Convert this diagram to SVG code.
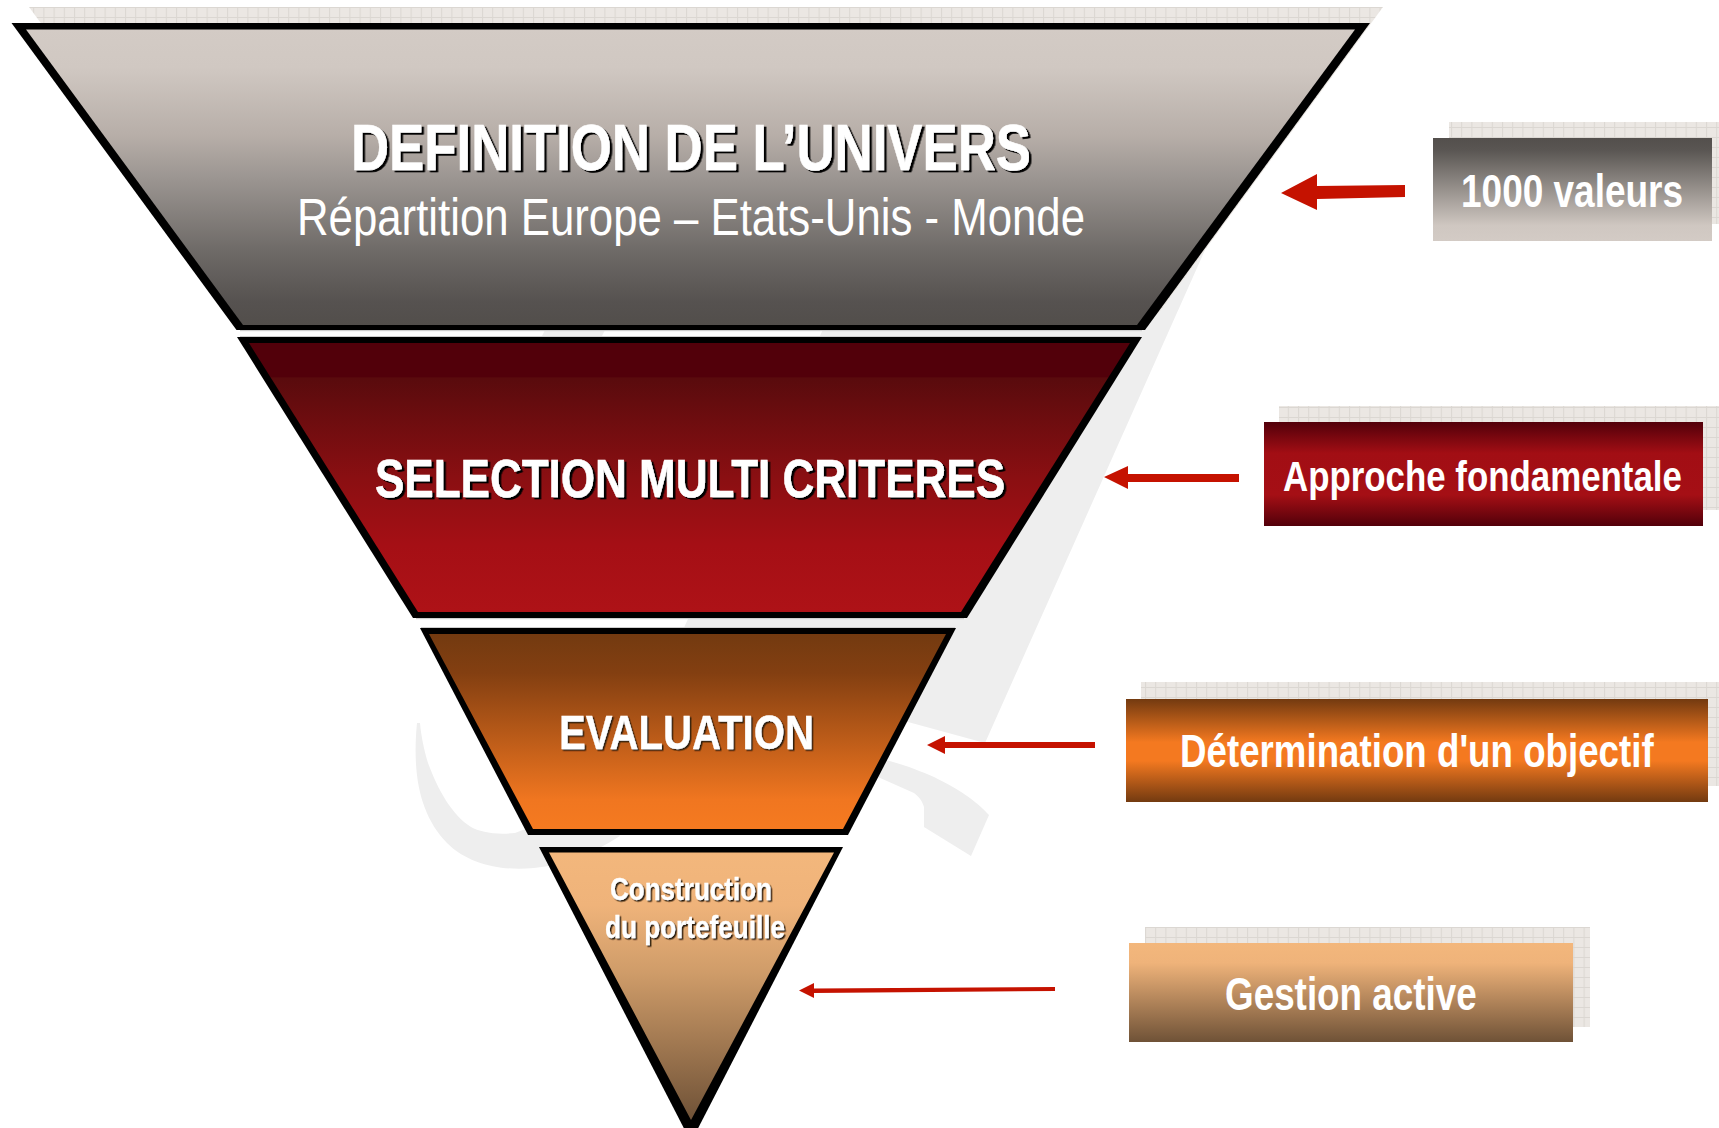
<svg xmlns="http://www.w3.org/2000/svg" width="1719" height="1128" viewBox="0 0 1719 1128">
<style>
text{font-family:"Liberation Sans",Arial,sans-serif;fill:#fff;text-anchor:start}
.b{font-weight:bold}
.s1{filter:url(#sh2);stroke:#fff;stroke-width:.5}
.s2{filter:url(#sh1);stroke:#fff;stroke-width:.3}
.wm{fill:#eeeeee}
.tex{fill:url(#grid)}
.arr{fill:#c51200}
.gap{fill:#cfcfcf}
</style>
<defs>
<pattern id="grid" width="10.2" height="10" patternUnits="userSpaceOnUse" x="1145" y="927">
<rect width="10.2" height="10" fill="#ebe7e3"/>
<path d="M0 .5H10.2M.5 0V10" stroke="#dbd7d2" stroke-width="1" fill="none"/>
</pattern>
<filter id="sh2" x="-5%" y="-20%" width="110%" height="140%"><feDropShadow dx="2.5" dy="2" stdDeviation="0" flood-color="#000"/></filter>
<filter id="sh1" x="-5%" y="-20%" width="110%" height="140%"><feDropShadow dx="1.5" dy="1.5" stdDeviation="0.3" flood-color="#2a1a0a"/></filter>
<linearGradient id="g1" gradientUnits="userSpaceOnUse" x1="0" y1="29" x2="0" y2="325">
<stop offset="0" stop-color="#d3cbc5"/><stop offset=".13" stop-color="#d0c8c2"/><stop offset=".36" stop-color="#b7aea8"/><stop offset=".5" stop-color="#9c9692"/><stop offset=".75" stop-color="#6e6a67"/><stop offset=".92" stop-color="#565250"/><stop offset="1" stop-color="#524e4b"/>
</linearGradient>
<linearGradient id="g2" gradientUnits="userSpaceOnUse" x1="0" y1="343" x2="0" y2="612">
<stop offset="0" stop-color="#52000a"/><stop offset=".125" stop-color="#52000a"/><stop offset=".13" stop-color="#590b0d"/><stop offset=".5" stop-color="#8a0f12"/><stop offset=".75" stop-color="#a50f15"/><stop offset="1" stop-color="#ae1217"/>
</linearGradient>
<linearGradient id="g3" gradientUnits="userSpaceOnUse" x1="0" y1="634" x2="0" y2="829">
<stop offset="0" stop-color="#733a10"/><stop offset=".2" stop-color="#833f11"/><stop offset=".85" stop-color="#f07620"/><stop offset="1" stop-color="#f57a20"/>
</linearGradient>
<linearGradient id="g4" gradientUnits="userSpaceOnUse" x1="0" y1="852" x2="0" y2="1120">
<stop offset="0" stop-color="#f3b77c"/><stop offset=".2" stop-color="#efb37a"/><stop offset=".45" stop-color="#cf9c69"/><stop offset="1" stop-color="#6f5237"/>
</linearGradient>
<linearGradient id="r1" x1="0" y1="0" x2="0" y2="1">
<stop offset="0" stop-color="#534f4c"/><stop offset=".12" stop-color="#5a5653"/><stop offset=".85" stop-color="#cfc7c1"/><stop offset="1" stop-color="#d3cbc5"/>
</linearGradient>
<linearGradient id="r2" x1="0" y1="0" x2="0" y2="1">
<stop offset="0" stop-color="#52000a"/><stop offset=".3" stop-color="#a20e14"/><stop offset=".7" stop-color="#a50f15"/><stop offset="1" stop-color="#52000a"/>
</linearGradient>
<linearGradient id="r3" x1="0" y1="0" x2="0" y2="1">
<stop offset="0" stop-color="#733a10"/><stop offset=".42" stop-color="#f47920"/><stop offset=".6" stop-color="#f47920"/><stop offset="1" stop-color="#733a10"/>
</linearGradient>
<linearGradient id="r4" x1="0" y1="0" x2="0" y2="1">
<stop offset="0" stop-color="#f3b77c"/><stop offset=".2" stop-color="#efb37a"/><stop offset="1" stop-color="#6f5237"/>
</linearGradient>
</defs>
<rect width="1719" height="1128" fill="#fff"/>
<g id="watermark">
<polygon class="wm" points="860,250 1205,250 985,743 908,722 640,722"/>
<polygon class="wm" points="560,300 620,300 600,340 540,340"/>
<path class="wm" d="M417 723C412 775 420 815 447 843C470 866 505 871 534 868C565 865 590 855 620 836L600 800L515 833C495 835 480 832 471 827C452 815 438 790 428 763C424 750 421 735 420 723Z"/>
<path class="wm" d="M860 750L886 760C905 765 920 771 934 777C960 790 975 800 989 815L971 856L924 827L924 807C922 800 918 796 914 793L878 777L850 765Z"/>
</g>
<g id="layer1">
<polygon class="tex" points="29,7 1383,7 1158,314 255,314"/>
<rect class="gap" x="240" y="330" width="902" height="1.2"/>
<polygon fill="#000" points="11.5,23 1370,23 1145,330 236.5,330"/>
<polygon fill="url(#g1)" points="26,29.5 1355,29.5 1137,325 243,325"/>
<text class="b s1" x="351" y="170" font-size="64" textLength="680" lengthAdjust="spacingAndGlyphs">DEFINITION DE L’UNIVERS</text>
<text x="297" y="235" font-size="51" textLength="788" lengthAdjust="spacingAndGlyphs">Répartition Europe – Etats-Unis - Monde</text>
</g>
<g id="layer2">
<rect class="gap" x="240" y="336" width="900" height="1.2"/>
<rect class="gap" x="416" y="618" width="548" height="1.2"/>
<polygon fill="#000" points="237,337 1142,337 967,618 413,618"/>
<polygon fill="url(#g2)" points="249,343 1130,343 961,612 418,612"/>
<text class="b s1" x="375" y="497" font-size="54" textLength="630" lengthAdjust="spacingAndGlyphs">SELECTION MULTI CRITERES</text>
</g>
<g id="layer3">
<rect class="gap" x="421" y="627" width="534" height="1.2"/>
<polygon fill="#000" points="420,628 956,628 848,835 528,835"/>
<polygon fill="url(#g3)" points="429,634 946,634 843,829 533,829"/>
<text class="b s2" x="559" y="749" font-size="48" textLength="255" lengthAdjust="spacingAndGlyphs">EVALUATION</text>
</g>
<g id="layer4">
<polygon fill="#000" points="539,847 843,847 691,1142"/>
<polygon fill="url(#g4)" points="549,852.5 834,852.5 691,1120"/>
<text class="b s2" x="610" y="900" font-size="31" textLength="162" lengthAdjust="spacingAndGlyphs">Construction</text>
<text class="b s2" x="605" y="938" font-size="31" textLength="180" lengthAdjust="spacingAndGlyphs">du portefeuille</text>
</g>
<g id="box1">
<rect class="tex" x="1449" y="122" width="270" height="102"/>
<rect x="1433" y="138" width="279" height="103" fill="url(#r1)"/>
<text class="b" transform="translate(1461 207) scale(.787 1)" font-size="47">1000 valeurs</text>
</g>
<g id="box2">
<rect class="tex" x="1279" y="406" width="440" height="104"/>
<rect x="1264" y="422" width="439" height="104" fill="url(#r2)"/>
<text class="b" transform="translate(1283 491) scale(.811 1)" font-size="43">Approche fondamentale</text>
</g>
<g id="box3">
<rect class="tex" x="1141" y="682" width="578" height="104"/>
<rect x="1126" y="699" width="582" height="103" fill="url(#r3)"/>
<text class="b" transform="translate(1180 767) scale(.798 1)" font-size="46">Détermination d'un objectif</text>
</g>
<g id="box4">
<rect class="tex" x="1145" y="927" width="445" height="100"/>
<rect x="1129" y="943" width="444" height="99" fill="url(#r4)"/>
<text class="b" transform="translate(1225 1010) scale(.801 1)" font-size="46">Gestion active</text>
</g>
<g id="connectors">
<polygon class="arr" points="1281,193 1317,174 1317,186 1405,185 1405,197 1317,199 1317,210"/>
<polygon class="arr" points="1104,477 1128,466 1128,474 1239,474 1239,482 1128,482 1128,489"/>
<polygon class="arr" points="927,745 945,736 945,742 1095,742 1095,748 945,748 945,754"/>
<polygon class="arr" points="799,990.5 814,983 814,988.5 1055,987 1055,991 814,993 814,998"/>
</g>
</svg>
